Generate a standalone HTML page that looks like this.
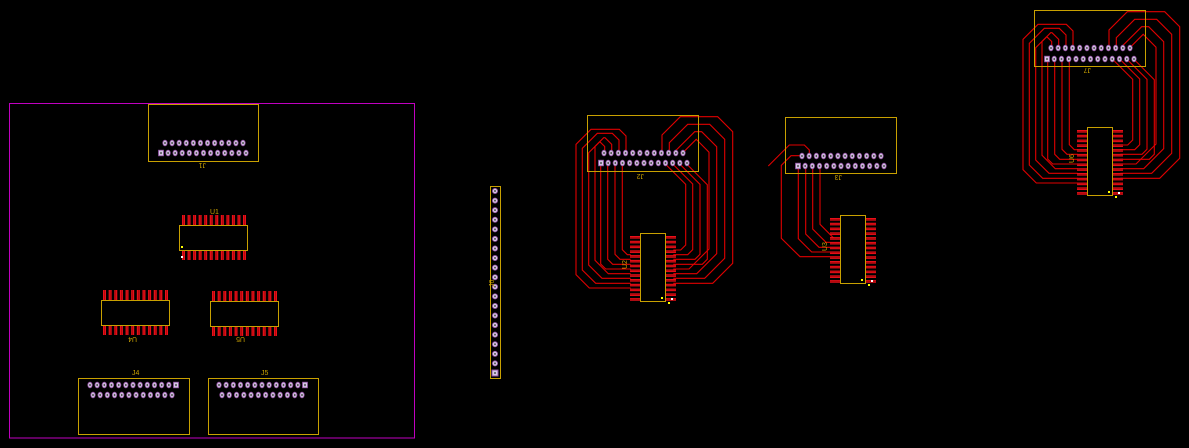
<!DOCTYPE html>
<html><head><meta charset="utf-8"><style>
html,body{margin:0;padding:0;background:#000;width:1189px;height:448px;overflow:hidden}
svg{display:block}
text{font-family:"Liberation Sans",sans-serif;font-size:7px;fill:#c8a000}
</style></head><body>
<svg id="s" width="1189" height="448" xmlns="http://www.w3.org/2000/svg">
<rect x="9.5" y="103.5" width="405" height="334.5" fill="none" stroke="#c000c0" stroke-width="1"/>
<g id="tr" fill="none" stroke="#e00000" stroke-width="1.1"></g>
<g id="fp"></g>
<text x="198" y="169" transform="rotate(180 202 166)">J1</text>
<text x="210" y="214">U1</text>
<text x="129" y="343" transform="rotate(180 133 340)">U4</text>
<text x="237" y="343" transform="rotate(180 241 340)">U5</text>
<text x="132" y="375">J4</text>
<text x="261" y="375">J5</text>
<text x="636" y="180" transform="rotate(180 640 177)">J2</text>
<text x="834" y="181" transform="rotate(180 838 178)">J3</text>
<text x="1083" y="74" transform="rotate(180 1087 71)">J7</text>
<text x="621" y="267" transform="rotate(-90 625 265)">U2</text>
<text x="821" y="249" transform="rotate(-90 825 247)">U3</text>
<text x="1068" y="161" transform="rotate(-90 1072 159)">U6</text>
<text x="488" y="285" transform="rotate(-90 492 283)">J6</text>
</svg>
<script>
var NS="http://www.w3.org/2000/svg",fp=document.getElementById('fp'),tr=document.getElementById('tr');
function el(p,t,a){var e=document.createElementNS(NS,t);for(var k in a)e.setAttribute(k,a[k]);p.appendChild(e);return e;}
var Y="#c8a000";
function box(x,y,w,h){el(fp,'rect',{x:x+.5,y:y+.5,width:w,height:h,fill:'none',stroke:Y,'stroke-width':1});}
function pad(x,y,sq){if(sq)el(fp,'rect',{x:x-2.5,y:y-2.8,width:5,height:5.6,fill:'#d8c8e8',stroke:'#9050a0','stroke-width':.8});
 else el(fp,'ellipse',{cx:x,cy:y,rx:2.2,ry:2.8,fill:'#d8c8e8',stroke:'#9050a0','stroke-width':.8});
 el(fp,'ellipse',{cx:x,cy:y,rx:.9,ry:1.3,fill:'#555'});}
function row(x0,x1,y,n,sq){for(var i=0;i<n;i++)pad(x0+(x1-x0)*i/(n-1),y,sq===i);}
function pinV(x,y){el(fp,'rect',{x:x,y:y,width:3,height:10,fill:'#e8101a'});el(fp,'rect',{x:x+1.2,y:y,width:.6,height:10,fill:'#900'});}
function pinH(x,y){el(fp,'rect',{x:x,y:y,width:11,height:2.6,fill:'#e8101a'});el(fp,'rect',{x:x,y:y+1,width:11,height:.6,fill:'#900'});}
function soicH(bx,by,x0,x1){for(var i=0;i<12;i++){var x=x0+(x1-x0)*i/11;pinV(x,by-10);pinV(x,by+25);}box(bx,by,68,25);}
function soicV(bx,by){for(var i=0;i<14;i++){var y=by+3+i*4.78;pinH(bx-10,y);pinH(bx+25,y);}box(bx,by,25,68);
 el(fp,'rect',{x:bx+21,y:by+64,width:2,height:2,fill:'#ff0'});el(fp,'rect',{x:bx+31,y:by+65,width:2,height:2,fill:'#fff'});el(fp,'rect',{x:bx+28,y:by+69,width:2,height:2,fill:'#ff0'});}
box(148,104,110,57);row(165,243,143,12);row(161,246,153,13,0);
soicH(179,225,182,243);el(fp,'rect',{x:181,y:246,width:2,height:2,fill:'#ff0'});el(fp,'rect',{x:181,y:256,width:2,height:2,fill:'#fff'});
soicH(101,300,103,165);soicH(210,301,212,274);
box(78,378,111,56);row(90,176,385,13,12);row(93,172,395,12);
box(208,378,110,56);row(219,305,385,13,12);row(222,302,395,12);
box(490,186,10,192);for(var i=0;i<20;i++){var y=191+i*(182/19);if(i==19){el(fp,'rect',{x:492,y:y-3,width:6,height:6,fill:'#d8c8e8',stroke:'#9050a0'});}else{el(fp,'circle',{cx:495,cy:y,r:2.6,fill:'#d8c8e8',stroke:'#9050a0','stroke-width':.8});}el(fp,'circle',{cx:495,cy:y,r:1,fill:'#555'});}
function P(pts,ox,oy){var d='';for(var i=0;i<pts.length;i++)d+=(i?'L':'M')+(pts[i][0]/3+ox).toFixed(1)+' '+(pts[i][1]/3+oy).toFixed(1);el(tr,'path',{d:d});}
function group(ox,oy){
 var lp=[104,125,147,168],lt=[95,83,70,58],ll=[75,56,37,18],lpy=[491,505,520,534];
 for(var i=0;i<4;i++){var px=lp[i],t=lt[i],l=ll[i],py=lpy[i],w=px-l;
  var a=Math.min(20,w/2),b=Math.min(45,w-a);
  P([[px,130],[px,t+a],[px-a,t],[l+b,t],[l,t+b],[l,py-40],[l+40,py],[182,py]],ox,oy);}
 var ip=[157,135,113,92],ipy=[434,448,463,477];
 for(i=0;i<4;i++){P([[ip[i],162],[ip[i],ipy[i]-15],[ip[i]+15,ipy[i]],[182,ipy[i]]],ox,oy);}
 var rp=[276,298,319,340],rt=[20,43,65,88],rr=[488,464,440,417],rpy=[520,505,491,477];
 for(i=0;i<4;i++){var px=rp[i],t=rt[i],R=rr[i],py=rpy[i],w=R-px;
  var a=Math.min(55,w/2),b=Math.min(45,w-a);
  P([[px,130],[px,t+a],[px+a,t],[R-b,t],[R,t+b],[R,py-60],[R-60,py],[310,py]],ox,oy);}
 var qp=[286,308,329,350],qx=[347,368,390,412],qpy=[420,434,448,463];
 for(i=0;i<4;i++){var px=qp[i],X=qx[i],py=qpy[i];
  P([[px,162],[X,162+(X-px)],[X,py-15],[X-15,py],[310,py]],ox,oy);}
}
group(570,110);group(1017,5);
box(587,115,111,56);row(604,683,153,12);row(601,687,163,13,0);soicV(640,233);
box(1034,10,111,56);row(1051,1130,48,12);row(1047,1134,59,13,0);soicV(1087,127);
(function(){var ox=760,oy=110;
 P([[148,130],[148,120],[133,105],[88,105],[25,168]],ox,oy);
 P([[127,137],[93,137],[64,166],[64,385],[120,440],[210,440]],ox,oy);
 var a=[115,137,158,180],b=[426,412,397,383];
 for(var i=0;i<4;i++)P([[a[i],166],[a[i],b[i]-40],[a[i]+40,b[i]],[210,b[i]]],ox,oy);
})();
box(785,117,111,56);row(802,881,156,12);row(798,884,166,13,0);soicV(840,215);
</script>
</body></html>
